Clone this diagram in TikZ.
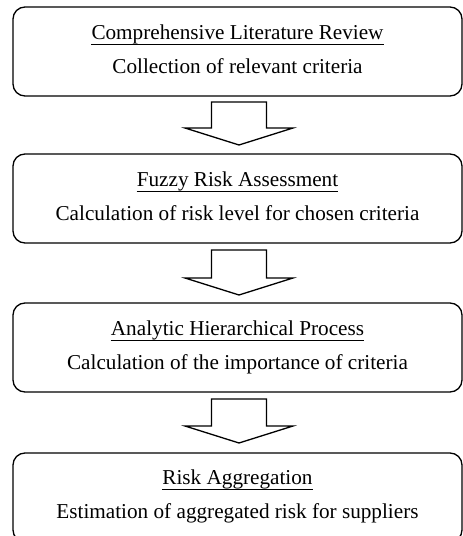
\documentclass[tikz,border=0pt]{standalone}
\usepackage{fontspec}
\setmainfont{Liberation Serif}
\usetikzlibrary{calc}

\tikzset{
  stage/.style={draw, line width=1.3pt, rounded corners=12pt, minimum width=449pt,
    minimum height=89pt, inner sep=0pt, outer sep=0pt},
  heading/.style={anchor=base, inner sep=0pt, font=\fontsize{21.2}{26}\selectfont},
  detail/.style={anchor=base, inner sep=0pt, font=\fontsize{21.2}{26}\selectfont},
  rule under/.style={line width=0.9pt},
  blockarrow/.style={draw, line width=1.3pt, line join=miter, fill=white},
}

% hollow block arrow from the bottom of one stage to the top of the next
% #1 source, #2 target, #3 gap below source, #4 gap above target
\newcommand\stagearrow[4]{%
  \draw[blockarrow] let \p1=($(#1.south)+(1.5pt,-#3)$), \p2=($(#2.north)+(1.5pt,#4)$) in
    (\x1-27.5pt,\y1) -- (\x1+27.5pt,\y1) -- (\x1+27.5pt,\y2+17pt)
    -- (\x1+54pt,\y2+17pt) -- (\x1,\y2) -- (\x1-54pt,\y2+17pt)
    -- (\x1-27.5pt,\y2+17pt) -- cycle;}

% line under a heading, just below its baseline
\newcommand\underrule[1]{%
  \draw[rule under] ($(#1.base west)+(0,-4.3pt)$) -- ($(#1.base east)+(0,-4.3pt)$);}

\begin{document}
\begin{tikzpicture}[x=1pt, y=1pt]
  \useasboundingbox (0,0) rectangle (463,536);

  % stages (the last one runs past the lower edge)
  \node[stage] (b1) at (237.5,484.5) {};
  \node[stage] (b2) at (237.5,337.5) {};
  \node[stage] (b3) at (237.5,188.5) {};
  \node[stage] (b4) at (237.5,38.5) {};

  % stage texts
  \node[heading] (h1) at (237.5,496) {Comprehensive Literature Review};
  \node[detail]  (d1) at (237.5,462) {Collection of relevant criteria};
  \node[heading] (h2) at (237.5,349) {Fuzzy Risk Assessment};
  \node[detail]  (d2) at (237.5,315) {Calculation of risk level for chosen criteria};
  \node[heading] (h3) at (237.5,200) {Analytic Hierarchical Process};
  \node[detail]  (d3) at (237.5,166) {Calculation of the importance of criteria};
  \node[heading] (h4) at (237.5,51) {Risk Aggregation};
  \node[detail]  (d4) at (237.5,17) {Estimation of aggregated risk for suppliers};

  \underrule{h1}
  \underrule{h2}
  \underrule{h3}
  \underrule{h4}

  % flow between stages
  \stagearrow{b1}{b2}{6pt}{9pt}
  \stagearrow{b2}{b3}{7pt}{8pt}
  \stagearrow{b3}{b4}{7pt}{10pt}
\end{tikzpicture}
\end{document}
